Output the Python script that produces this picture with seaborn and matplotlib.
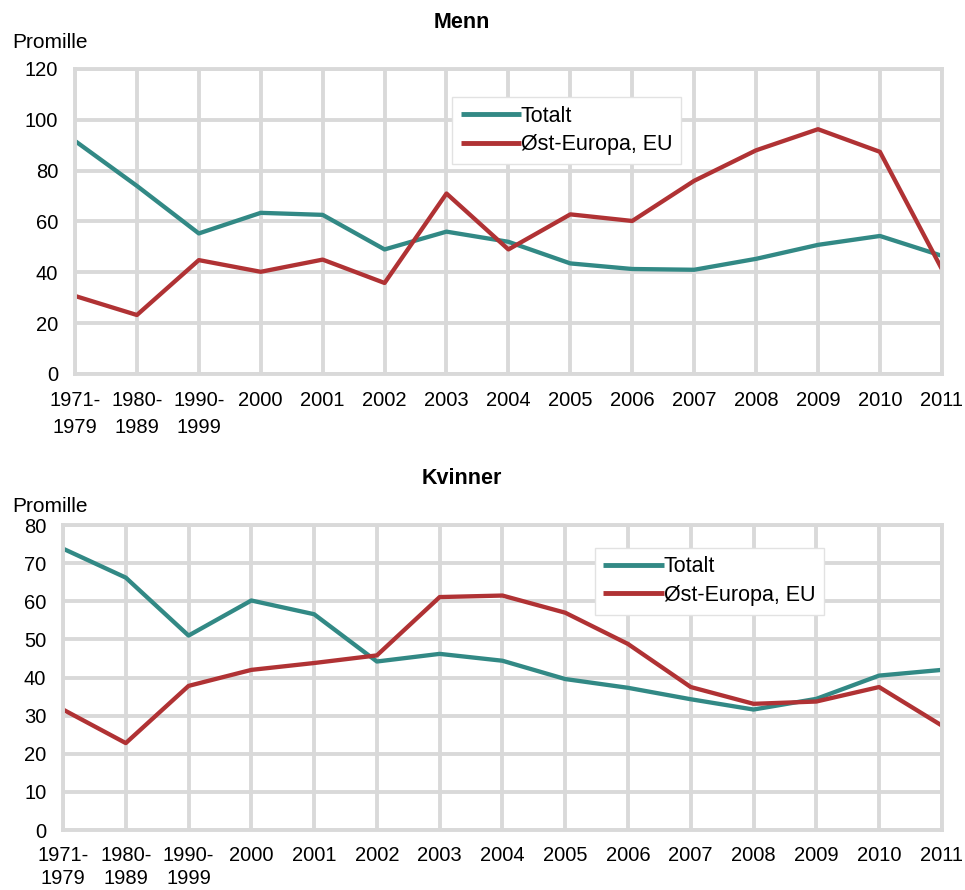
import matplotlib
matplotlib.use("Agg")
import matplotlib.pyplot as plt
import seaborn as sns
import pandas as pd
import numpy as np

categories = ["1971-\n1979", "1980-\n1989", "1990-\n1999", "2000", "2001", "2002", "2003",
              "2004", "2005", "2006", "2007", "2008", "2009", "2010", "2011"]
series_names = ["Totalt", "Øst-Europa, EU"]

menn_totalt = [91.7, 74, 55.3, 63.4, 62.6, 49, 56, 52, 43.5, 41.3, 41, 45.3, 50.8, 54.3, 46.5]
menn_ost = [30.7, 23.2, 44.8, 40.2, 45, 35.8, 71, 49, 62.8, 60.2, 76, 88, 96.3, 87.4, 41.3]
kvinner_totalt = [73.8, 66.2, 51, 60.2, 56.6, 44.2, 46.2, 44.4, 39.6, 37.3, 34.3, 31.6, 34.4, 40.5, 42]
kvinner_ost = [31.6, 22.8, 37.8, 42, 43.8, 45.8, 61.1, 61.5, 57, 48.8, 37.5, 33.1, 33.7, 37.5, 27.4]

colors = {"Totalt": "#328985", "Øst-Europa, EU": "#b03234"}
grid_color = "#d9d9d9"

sns.set_theme(style="white")
plt.rcParams["font.family"] = ["Liberation Sans", "DejaVu Sans"]
plt.rcParams["text.color"] = "black"

fig = plt.figure(figsize=(9.65, 8.9), dpi=100)
ax1 = fig.add_axes([0.0777, 0.5798, 0.976 - 0.0777, 0.9225 - 0.5798])
ax2 = fig.add_axes([0.0653, 0.0674, 0.976 - 0.0653, 0.4101 - 0.0674])

TICK_FS = 14.5
LEG_FS = 15.5


def make_df(tot, ost):
    pos = list(range(len(categories)))
    return pd.DataFrame({
        "x": pos + pos,
        "y": tot + ost,
        "serie": [series_names[0]] * len(pos) + [series_names[1]] * len(pos),
    })


def style(ax, df, ymax, step, legend_anchor, xpad, lsp):
    sns.lineplot(data=df, x="x", y="y", hue="serie", palette=colors, linewidth=3.1,
                 ax=ax, legend=True, sort=False)
    ax.set_xlim(0, len(categories) - 1)
    ax.set_ylim(0, ymax)
    ax.set_xticks(range(len(categories)))
    ax.set_xticklabels(categories, fontsize=TICK_FS, linespacing=lsp, ha="center",
                       va="top", color="black")
    ax.set_yticks(np.arange(0, ymax + 1, step))
    ax.set_yticklabels([str(int(v)) for v in np.arange(0, ymax + 1, step)],
                       fontsize=TICK_FS, color="black")
    ax.set_xlabel("")
    ax.set_ylabel("")
    ax.grid(True, color=grid_color, linewidth=2.8)
    ax.set_axisbelow(True)
    for s in ax.spines.values():
        s.set_color(grid_color)
        s.set_linewidth(2.8)
    ax.tick_params(axis="x", length=0, pad=xpad)
    ax.tick_params(axis="y", length=0, pad=12)
    for l in ax.get_lines():
        l.set_solid_capstyle("butt")
    leg = ax.legend(loc="upper left", bbox_to_anchor=legend_anchor, fontsize=LEG_FS,
                    frameon=True, fancybox=False, handlelength=2.8, handletextpad=0.0,
                    borderpad=0.4, labelspacing=0.35, borderaxespad=0)
    leg.get_frame().set_edgecolor("#e2e2e2")
    leg.get_frame().set_linewidth(1.0)
    leg.get_frame().set_alpha(1)
    for t in leg.get_texts():
        t.set_color("black")
    for h in leg.get_lines():
        h.set_linewidth(3.5)


style(ax1, make_df(menn_totalt, menn_ost), 120, 20, (0.435, 0.908), 12.5, 1.5)
style(ax2, make_df(kvinner_totalt, kvinner_ost), 80, 10, (0.605, 0.925), 11.5, 1.3)

fig.text(462 / 965, 1 - 22 / 890, "Menn", ha="center", va="center", fontsize=15.5,
         fontweight="bold", color="black")
fig.text(462 / 965, 1 - 478 / 890, "Kvinner", ha="center", va="center", fontsize=15.5,
         fontweight="bold", color="black")
fig.text(12 / 965, 1 - 42 / 890, "Promille", ha="left", va="center", fontsize=15, color="black")
fig.text(12 / 965, 1 - 506 / 890, "Promille", ha="left", va="center", fontsize=15, color="black")

fig.savefig("out.png", dpi=100)
